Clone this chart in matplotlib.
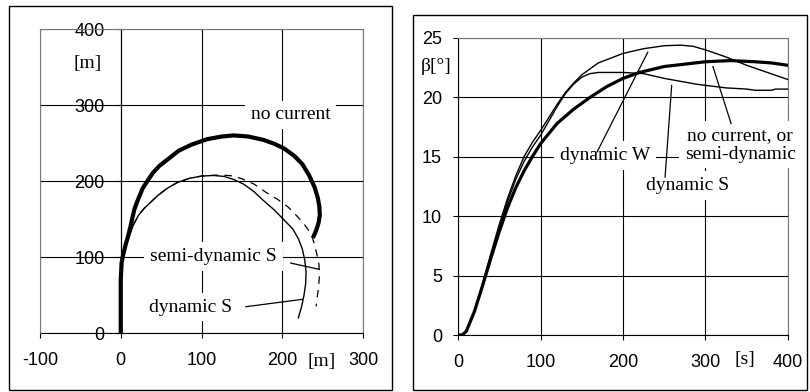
import matplotlib
matplotlib.use("Agg")
import matplotlib.pyplot as plt
import matplotlib.transforms as mtransforms
from matplotlib.patches import Rectangle

SANS = "Liberation Sans"
SERIF = "Liberation Serif"
plt.rcParams["font.family"] = [SANS, "DejaVu Sans"]
plt.rcParams["axes.unicode_minus"] = False

# ---- Turning trajectories, x / y in metres ----
no_current_x = [0, 0, 0, 0.5, 1, 3, 6, 9, 12, 14.5, 17, 20, 27, 33, 40, 48, 60, 72, 88,
                107, 125, 140, 158, 177, 190, 202, 215, 225, 233, 240, 244, 246, 246.5,
                245, 242, 238]
no_current_y = [0, 40, 70, 80, 92, 103, 116, 127, 140, 152, 163, 172, 190, 200, 211, 220,
                230, 240, 248, 255, 258.5, 260, 258.5, 254, 249, 243, 233, 222, 208, 192,
                178, 166, 155, 145, 135, 125]

dyn_s_x = [0, 0, 0, 0.5, 1.5, 4, 7, 11, 16, 22, 29, 37, 46, 57, 70, 85, 100, 115, 128,
           140, 152, 165, 177, 190, 202, 213, 220, 225, 228, 229.5, 229, 227, 224, 220]
dyn_s_y = [0, 40, 70, 80, 92, 105, 117, 129, 143, 155, 164, 172, 181, 190, 198, 203.5,
           206.5, 207.3, 206, 202, 196, 186, 174, 162, 149, 137, 124, 110, 95, 80, 65,
           50, 35, 20]

semi_s_x = [0, 0, 0, 0.5, 1.5, 4, 7, 11, 16, 22, 29, 37, 46, 57, 70, 85, 100, 115, 125,
            136, 150, 165, 180, 194, 207, 219, 228, 236, 240, 243, 245.5, 246, 245, 243,
            242]
semi_s_y = [0, 40, 70, 80, 92, 105, 117, 129, 143, 155, 164, 172, 181, 190, 198, 203.5,
            206.5, 207.5, 207.8, 207, 203, 196, 185, 176, 166, 153, 142, 130, 116, 103,
            90, 75, 60, 45, 35]

# ---- Drift angle vs time ----
t_no_current = [0, 5, 10, 20, 30, 40, 50, 60, 70, 80, 90, 100, 120, 140, 160, 180, 200,
                220, 250, 300, 330, 360, 380, 400]
beta_no_current = [0, 0, 0.3, 2.0, 4.2, 6.5, 8.7, 10.7, 12.4, 13.8, 15.0, 16.1, 17.8, 19.0,
                   20.0, 20.9, 21.6, 22.1, 22.6, 23.0, 23.1, 23.0, 22.9, 22.7]

t_dyn_s = [0, 5, 10, 20, 30, 40, 50, 60, 70, 80, 90, 100, 110, 120, 130, 140, 150, 160,
           170, 200, 225, 250, 290, 325, 350, 360, 380, 385, 400]
beta_dyn_s = [0, 0, 0.3, 2.0, 4.3, 6.7, 9.0, 11.2, 13.1, 14.6, 15.8, 16.8, 18.0, 19.2, 20.3,
              21.1, 21.7, 22.0, 22.1, 22.1, 22.0, 21.6, 21.1, 20.8, 20.7, 20.6, 20.6, 20.7, 20.7]

t_dyn_w = [0, 5, 10, 20, 30, 40, 50, 60, 70, 80, 90, 100, 110, 120, 130, 140, 150, 170,
           200, 225, 250, 270, 285, 300, 325, 350, 375, 400]
beta_dyn_w = [0, 0, 0.3, 2.0, 4.4, 6.9, 9.3, 11.5, 13.4, 15.0, 16.2, 17.2, 18.3, 19.4, 20.4,
              21.2, 21.9, 22.9, 23.7, 24.1, 24.35, 24.4, 24.3, 24.0, 23.4, 22.7, 22.1, 21.5]

track_xticks = [-100, 0, 100, 200, 300]
track_yticks = [0, 100, 200, 300, 400]
time_xticks = [0, 100, 200, 300, 400]
beta_yticks = [0, 5, 10, 15, 20, 25]

W, H = 810, 392
fig = plt.figure(figsize=(W / 100, H / 100), dpi=100)


def px_rect(x0, y0, x1, y1):
    return [x0 / W, 1 - y1 / H, (x1 - x0) / W, (y1 - y0) / H]


# outer frames around each chart
for (x0, y0, x1, y1) in [(9, 6, 392, 390), (413, 15, 807, 390)]:
    r = px_rect(x0, y0, x1, y1)
    fig.add_artist(Rectangle((r[0], r[1]), r[2], r[3], transform=fig.transFigure,
                             fill=False, lw=1.0, ec="black"))

box = dict(boxstyle="square,pad=0.3", fc="white", ec="none")


def style(ax, xt, yt):
    ax.set_xticks(xt)
    ax.set_yticks(yt)
    ax.set_xlim(xt[0], xt[-1])
    ax.set_ylim(yt[0], yt[-1])
    ax.grid(True, color="black", lw=0.8)
    ax.set_axisbelow(True)
    ax.tick_params(axis="both", direction="out", length=3.6, width=0.8, labelsize=13)
    ax.tick_params(axis="x", pad=10)
    ax.tick_params(axis="y", pad=8)
    for s in ["top", "right"]:
        ax.spines[s].set_color("#777777")
        ax.spines[s].set_linewidth(0.8)
    for s in ["left", "bottom"]:
        ax.spines[s].set_color("black")
        ax.spines[s].set_linewidth(0.8)


# ---- left: trajectories ----
ax1 = fig.add_axes(px_rect(40, 29, 363, 333))
style(ax1, track_xticks, track_yticks)
ax1.spines["left"].set_position(("data", 0))
ax1.axvline(-100, color="#777777", lw=0.8, zorder=2.6, clip_on=False)

ax1.plot(semi_s_x, semi_s_y, color="black", lw=0.9, ls=(0, (6, 5)), zorder=3)
ax1.plot(dyn_s_x, dyn_s_y, color="black", lw=1.0, zorder=3)
ax1.plot(no_current_x, no_current_y, color="black", lw=3.0, zorder=3,
         solid_capstyle="butt", solid_joinstyle="round")

ax1.text(210.5, 287, "no current", family=SERIF, fontsize=14, ha="center", va="center",
         bbox=box, zorder=4)
ax1.text(115, 101, "semi-dynamic S", family=SERIF, fontsize=14, ha="center",
         va="center", bbox=box, zorder=4)
ax1.text(87, 34, "dynamic S", family=SERIF, fontsize=14, ha="center", va="center",
         bbox=box, zorder=4)
ax1.plot([210.5, 245.6], [92, 83.8], color="black", lw=0.9, zorder=4)
ax1.plot([155, 225], [34.6, 44.3], color="black", lw=0.9, zorder=4)
ax1.text(-41, 355, "[m]", family=SERIF, fontsize=14, ha="center", va="center", zorder=4)
ax1.text(249, -0.095, "[m]", family=SERIF, fontsize=14, ha="center", va="center",
         transform=mtransforms.blended_transform_factory(ax1.transData, ax1.transAxes),
         clip_on=False)

# ---- right: drift angle ----
ax2 = fig.add_axes(px_rect(458, 38, 788, 335))
style(ax2, time_xticks, beta_yticks)

ax2.plot(t_dyn_w, beta_dyn_w, color="black", lw=1.0, zorder=3)
ax2.plot(t_dyn_s, beta_dyn_s, color="black", lw=1.0, zorder=3)
ax2.plot(t_no_current, beta_no_current, color="black", lw=2.3, zorder=3)

ax2.text(178, 15.1, "dynamic W", family=SERIF, fontsize=14, ha="center", va="center",
         bbox=box, zorder=4)
ax2.text(342, 16.0, "no current, or\nsemi-dynamic", family=SERIF, fontsize=14,
         ha="center", va="center", multialignment="center", linespacing=1.1,
         bbox=box, zorder=4, clip_on=False)
ax2.text(278, 12.6, "dynamic S", family=SERIF, fontsize=14, ha="center", va="center",
         bbox=box, zorder=4)
ax2.plot([168.5, 230], [15.4, 23.8], color="black", lw=0.9, zorder=4)
ax2.plot([251, 259], [13.3, 21.0], color="black", lw=0.9, zorder=4)
ax2.plot([331, 309], [17.8, 22.6], color="black", lw=0.9, zorder=4)
ax2.text(-27, 22.6, "β[°]", family=SERIF, fontsize=14, ha="center", va="center",
         clip_on=False)
ax2.text(348, -0.084, "[s]", family=SERIF, fontsize=14, ha="center", va="center",
         transform=mtransforms.blended_transform_factory(ax2.transData, ax2.transAxes),
         clip_on=False)

fig.savefig("out.png", dpi=100)
